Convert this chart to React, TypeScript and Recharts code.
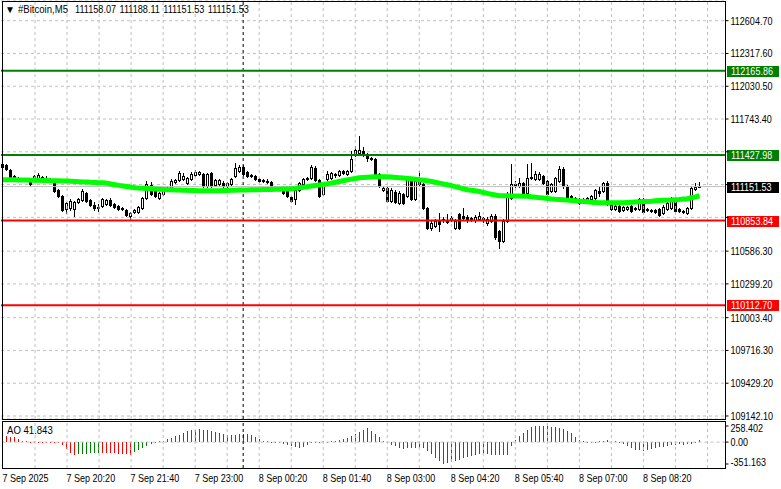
import React from 'react';
import { ComposedChart, Bar, Line, XAxis, YAxis, CartesianGrid, ReferenceLine } from 'recharts';

const FONT = '"Liberation Sans", Arial, sans-serif';
const SQUEEZE = 0.82; // narrow terminal-style lettering

// [open, high, low, close] per 5-minute bar, 7 Sep 19:00 -> 8 Sep 09:30
const candles: number[][] = [
  [111325, 111378, 111308, 111351], [111343, 111351, 111299, 111308], [111299, 111308, 111229, 111238], [111246, 111255, 111220, 111229],
  [111220, 111238, 111211, 111229], [111220, 111229, 111203, 111211], [111211, 111229, 111203, 111220], [111203, 111211, 111159, 111176],
  [111220, 111255, 111211, 111246], [111229, 111273, 111220, 111255], [111238, 111246, 111211, 111229], [111229, 111246, 111203, 111220],
  [111220, 111229, 111194, 111211], [111185, 111203, 111106, 111115], [111124, 111132, 111062, 111071], [111071, 111080, 110940, 110949],
  [110957, 111019, 110922, 111010], [110966, 111045, 110949, 111027], [110957, 111027, 110896, 111019], [111019, 111054, 111010, 111045],
  [111036, 111132, 111027, 111115], [111097, 111106, 111019, 111027], [111036, 111045, 110984, 110992], [110992, 111019, 110949, 110966],
  [110975, 111001, 110940, 110966], [110984, 111054, 110975, 111045], [111001, 111045, 110992, 111036], [111036, 111054, 110984, 110992],
  [111001, 111010, 110966, 110975], [110984, 110992, 110949, 110957], [110966, 110975, 110949, 110957], [110949, 110957, 110896, 110905],
  [110896, 110931, 110861, 110922], [110931, 110957, 110922, 110949], [110931, 110984, 110922, 110975], [110966, 111062, 110957, 111054],
  [111054, 111203, 111045, 111176], [111168, 111194, 111080, 111089], [111124, 111132, 111062, 111071], [111054, 111106, 111045, 111097],
  [111089, 111141, 111080, 111132], [111124, 111150, 111115, 111141], [111141, 111220, 111132, 111203], [111194, 111220, 111185, 111211],
  [111211, 111290, 111203, 111273], [111220, 111273, 111211, 111246], [111185, 111238, 111176, 111229], [111220, 111281, 111211, 111264],
  [111255, 111299, 111246, 111281], [111264, 111290, 111255, 111281], [111264, 111273, 111150, 111159], [111159, 111273, 111150, 111264],
  [111273, 111281, 111150, 111159], [111168, 111220, 111159, 111211], [111176, 111220, 111168, 111211], [111185, 111203, 111132, 111159],
  [111159, 111194, 111150, 111185], [111176, 111229, 111168, 111220], [111246, 111360, 111238, 111316], [111290, 111343, 111281, 111325],
  [111325, 111343, 111255, 111264], [111281, 111290, 111238, 111246], [111255, 111264, 111238, 111246], [111246, 111255, 111211, 111220],
  [111220, 111229, 111194, 111203], [111211, 111220, 111194, 111203], [111203, 111220, 111185, 111194], [111194, 111203, 111141, 111150],
  [111150, 111159, 111132, 111141], [111141, 111150, 111124, 111132], [111141, 111150, 111089, 111097], [111115, 111124, 111062, 111071],
  [111062, 111071, 111019, 111027], [111045, 111132, 111001, 111124], [111124, 111194, 111115, 111185], [111176, 111229, 111168, 111220],
  [111220, 111238, 111211, 111229], [111229, 111343, 111220, 111325], [111316, 111334, 111203, 111211], [111211, 111220, 111062, 111071],
  [111089, 111185, 111080, 111176], [111220, 111290, 111211, 111264], [111229, 111281, 111220, 111273], [111255, 111273, 111238, 111264],
  [111255, 111299, 111246, 111290], [111290, 111299, 111264, 111273], [111264, 111299, 111255, 111290], [111290, 111465, 111281, 111395],
  [111430, 111509, 111422, 111474], [111448, 111597, 111439, 111474], [111465, 111500, 111422, 111430], [111422, 111448, 111378, 111404],
  [111404, 111413, 111387, 111395], [111395, 111404, 111255, 111264], [111264, 111273, 111150, 111159], [111124, 111159, 111115, 111141],
  [111141, 111150, 111019, 111027], [111027, 111141, 111019, 111124], [111106, 111124, 111010, 111019], [111010, 111115, 111001, 111097],
  [111089, 111097, 111001, 111010], [111071, 111238, 111062, 111220], [111229, 111238, 111036, 111045], [111045, 111220, 111036, 111203],
  [111203, 111290, 111168, 111176], [111176, 111185, 110957, 110966], [110966, 110975, 110782, 110791], [110791, 110852, 110773, 110835],
  [110808, 110870, 110800, 110852], [110852, 110922, 110765, 110826], [110861, 110887, 110843, 110870], [110852, 110913, 110835, 110843],
  [110870, 110896, 110852, 110878], [110791, 110870, 110782, 110852], [110913, 110922, 110782, 110791], [110896, 110966, 110861, 110878],
  [110887, 110905, 110843, 110861], [110878, 110887, 110852, 110861], [110861, 110905, 110843, 110887], [110870, 110931, 110861, 110896],
  [110878, 110887, 110843, 110861], [110835, 110887, 110817, 110870], [110852, 110913, 110843, 110896], [110896, 110913, 110694, 110712],
  [110765, 110773, 110616, 110677], [110677, 110870, 110668, 110852], [110852, 111106, 110843, 111089], [111054, 111351, 111045, 111176],
  [111176, 111203, 111150, 111168], [111159, 111229, 111150, 111185], [111185, 111194, 111089, 111097], [111097, 111351, 111089, 111229],
  [111229, 111360, 111220, 111238], [111220, 111290, 111211, 111264], [111220, 111281, 111211, 111264], [111246, 111255, 111176, 111185],
  [111203, 111211, 111080, 111089], [111115, 111185, 111106, 111176], [111115, 111238, 111106, 111229], [111203, 111334, 111194, 111308],
  [111308, 111325, 111141, 111159], [111159, 111168, 111036, 111045], [111071, 111080, 111027, 111045], [111054, 111062, 111027, 111036],
  [111045, 111054, 111001, 111010], [111045, 111054, 111019, 111027], [111027, 111062, 111019, 111054], [111045, 111080, 111036, 111071],
  [111054, 111132, 111045, 111124], [111115, 111150, 111071, 111097], [111115, 111194, 111106, 111185], [111185, 111203, 110992, 111001],
  [111001, 111010, 110949, 110957], [110957, 110992, 110949, 110984], [110984, 110992, 110931, 110940], [110949, 110984, 110940, 110975],
  [110957, 110984, 110949, 110975], [110984, 110992, 110931, 110940], [110957, 110975, 110949, 110966], [110957, 111054, 110949, 111045],
  [111045, 111054, 110922, 110931], [110957, 110966, 110940, 110949], [110949, 110957, 110931, 110940], [110949, 110957, 110922, 110931],
  [110957, 110966, 110896, 110905], [110922, 110992, 110913, 110975], [110957, 111027, 110949, 111010], [110966, 111062, 110957, 111045],
  [111027, 111036, 110931, 110940], [110957, 110966, 110931, 110940], [110940, 110949, 110922, 110931], [110922, 110975, 110913, 110966],
  [110966, 111159, 110957, 111141], [111132, 111185, 111124, 111150], [111158.07, 111188.11, 111151.53, 111151.53],
];

// moving average (lime line), one value per bar
const maValues = [
  111212, 111212, 111211, 111211, 111210, 111210, 111209, 111208, 111207, 111206, 111205, 111204, 111203, 111203, 111202, 111201,
  111200, 111198, 111196, 111194, 111192, 111191, 111189, 111188, 111186, 111185,
  111180, 111174, 111168, 111162, 111157, 111152, 111147, 111142,
  111139, 111137, 111135, 111132, 111130, 111128, 111126, 111124,
  111123, 111122, 111121, 111120, 111119, 111118, 111117, 111116, 111115,
  111115, 111115, 111116, 111116, 111117, 111118, 111119, 111120, 111121, 111122, 111122, 111123, 111124,
  111124, 111125, 111126, 111127, 111128, 111129, 111130, 111131, 111132,
  111136, 111141, 111146, 111151, 111156, 111161, 111166, 111171, 111176,
  111182, 111189, 111196, 111203, 111210, 111217, 111223, 111229,
  111231, 111233, 111235, 111237, 111238, 111238,
  111237, 111235, 111232, 111229, 111226, 111223, 111220,
  111216, 111211, 111207, 111203,
  111196, 111189, 111182, 111175, 111168,
  111160, 111151, 111142, 111133, 111124, 111119, 111115,
  111108, 111100, 111092, 111085, 111078, 111071,
  111071, 111071, 111070, 111070, 111069, 111068,
  111066, 111063, 111059, 111055, 111051, 111047, 111043, 111040, 111038, 111036,
  111033, 111030, 111027, 111024, 111021, 111018, 111015, 111013, 111011, 111010,
  111010, 111009, 111009, 111009, 111010,
  111012, 111014, 111016, 111018, 111020, 111022, 111024, 111027,
  111029, 111031, 111033, 111035, 111037, 111039, 111042, 111045,
  111054, 111062, 111071,
];

// Awesome Oscillator histogram
const aoValues = [
  97, 97, 88, 80, 56, 24,
  10, 8, 5, 3, 2, 0, -3, -8,
  -20, -50, -110, -170, -200,
  -195, -190, -185, -180, -175, -170,
  -172, -175, -178, -182, -186, -190, -195, -200,
  -160, -125, -95, -60, -25,
  3, 12, 25, 45, 65, 90, 120, 150, 175,
  190, 200, 205,
  200, 190, 175, 160, 145, 130, 118, 110,
  118, 128, 132,
  125, 110, 80, 50, 22,
  12, 6, 2, -8,
  -25, -45, -65, -85, -97,
  -75, -45, -20,
  -5, 5, 10, 8, 12, 18, 28, 42,
  60, 90, 130, 170, 200, 225,
  185, 135, 80, 25,
  -15, -45, -70, -95, -110,
  -100, -95, -92, -90,
  -100, -140, -190, -250, -300, -351.163,
  -335, -318, -300, -282, -262, -242, -222, -205, -190,
  -193, -196, -199, -202, -205, -208, -210,
  -70,
  30, 90, 150, 200, 235, 252, 258.402,
  256, 252, 248, 242, 232, 215, 185, 140, 80,
  35, 12, 3, 1, 5,
  15, 25, 35,
  22, 10, 2,
  -30, -70, -100, -120, -130, -135,
  -120, -108, -96, -84, -72, -60, -48, -42, -38, -40, -32, -25, -12, 41.843,
];

const timeLabels = ['7 Sep 2025', '7 Sep 20:20', '7 Sep 21:40', '7 Sep 23:00', '8 Sep 00:20', '8 Sep 01:40',
  '8 Sep 03:00', '8 Sep 04:20', '8 Sep 05:40', '8 Sep 07:00', '8 Sep 08:20'];
const timeLabelBars = [0, 16, 32, 48, 64, 80, 96, 112, 128, 144, 160];

const priceLabels = [112604.70, 112317.60, 112030.50, 111743.40, 110586.30, 110299.20, 110003.40, 109716.30, 109429.20, 109142.10];
const hiddenGridPrices = [111456.30, 111169.20, 110882.10];
const levelPrices = [112165.86, 111427.98, 110853.84, 110112.70];
const levelColors = ['#008000', '#008000', '#ff0000', '#ff0000'];
const lastPrice = 111151.53;
const aoTicks = [258.402, 0, -351.163];
const headerSymbol = '#Bitcoin,M5';
const headerValues = [111158.07, 111188.11, 111151.53, 111151.53];

const SLOTS = 181;
const gridBars = Array.from({ length: 22 }, (_, k) => 8 * (k + 1));
const separatorBar = 60;

const mainData = Array.from({ length: SLOTS }, (_, i) => {
  const c = candles[i];
  if (!c) return { i };
  return { i, o: c[0], h: c[1], l: c[2], c: c[3], range: [c[2], c[1]], ma: maValues[i] };
});

const aoData = Array.from({ length: SLOTS }, (_, i) => ({
  i,
  ao: aoValues[i],
  up: i > 0 && aoValues[i] > aoValues[i - 1],
}));

function SText({ x, y, fill = '#000', children }: any) {
  return (
    <text transform={`translate(${x} ${y}) scale(${SQUEEZE} 1)`} x={0} y={0} fontSize={11} fontFamily={FONT} fill={fill} textAnchor="start">
      {children}
    </text>
  );
}

function Candle(props: any) {
  const { x, y, width, height, payload } = props;
  if (!payload || payload.o == null) return null;
  const top = Math.min(y, y + height);
  const span = Math.abs(height) || 1;
  const toY = (v: number) => top + ((payload.h - v) / (payload.h - payload.l)) * span;
  const cx = Math.floor(x + width / 2);
  const yo = Math.round(toY(payload.o));
  const yc = Math.round(toY(payload.c));
  const yh = Math.round(top);
  const yl = Math.round(top + span);
  const bTop = Math.min(yo, yc);
  const bBot = Math.max(yo, yc);
  const bull = payload.c >= payload.o;
  return (
    <g shapeRendering="crispEdges">
      <rect x={cx} y={yh} width={1} height={yl - yh + 1} fill="#000" />
      {bBot - bTop < 1 ? (
        <rect x={cx - 1} y={bTop} width={3} height={1} fill="#000" />
      ) : bull ? (
        <rect x={cx - 0.5} y={bTop + 0.5} width={2} height={bBot - bTop} fill="#fff" stroke="#000" strokeWidth={1} />
      ) : (
        <rect x={cx - 1} y={bTop} width={3} height={bBot - bTop + 1} fill="#000" />
      )}
    </g>
  );
}

function AoBar(props: any) {
  const { x, y, width, height, payload } = props;
  if (!payload || payload.ao == null) return null;
  const cx = Math.floor(x + width / 2);
  const top = Math.round(Math.min(y, y + height));
  const bot = Math.round(Math.max(y, y + height));
  return (
    <rect x={cx} y={top} width={1} height={Math.max(1, bot - top)} fill={payload.up ? '#008000' : '#ff0000'} shapeRendering="crispEdges" />
  );
}

function PriceTick(props: any) {
  const { x, y, payload } = props;
  if (!priceLabels.includes(payload.value)) return null;
  return <SText x={x} y={y + 4}>{payload.value.toFixed(2)}</SText>;
}

function AoTick(props: any) {
  const { x, y, payload } = props;
  const v = payload.value;
  const dy = v > 0 ? 2 : v < 0 ? -2 : 0;
  return <SText x={x} y={y + 4 + dy}>{v === 0 ? '0.00' : String(v)}</SText>;
}

function TimeTick(props: any) {
  const { x, y, payload } = props;
  const k = timeLabelBars.indexOf(payload.value);
  if (k < 0) return null;
  return <SText x={x - 0.5} y={y + 14}>{timeLabels[k]}</SText>;
}

function PriceTag(props: any) {
  const { viewBox, text, fill } = props;
  if (!viewBox) return null;
  const x = viewBox.x + viewBox.width + 1.5;
  const y = Math.round(viewBox.y);
  return (
    <g>
      <rect x={x} y={y - 5} width={52} height={11} fill={fill} shapeRendering="crispEdges" />
      <SText x={x + 4} y={y + 4} fill="#fff">{text}</SText>
    </g>
  );
}

const overlayText = (scale: number): React.CSSProperties => ({
  position: 'absolute',
  fontFamily: FONT,
  fontSize: 11,
  lineHeight: '13px',
  whiteSpace: 'pre',
  color: '#000',
  transform: `scaleX(${scale})`,
  transformOrigin: 'left top',
});

export default function App() {
  return (
    <div style={{ position: 'absolute', left: 0, top: 0, width: 781, height: 489, background: '#fff', overflow: 'hidden' }}>
      <div style={{ position: 'absolute', left: 0, top: 0 }}>
        <ComposedChart width={781} height={421} data={mainData} margin={{ top: 1, right: 0.5, bottom: 2, left: 1 }}>
          <XAxis dataKey="i" type="category" hide />
          <YAxis
            orientation="right"
            width={55}
            domain={[109115.8, 112777.2]}
            allowDataOverflow
            ticks={[...priceLabels, ...hiddenGridPrices].sort((a, b) => b - a)}
            interval={0}
            axisLine={false}
            tickSize={3}
            tickMargin={2}
            tickLine={{ stroke: '#000' }}
            tick={<PriceTick />}
          />
          <CartesianGrid vertical={false} stroke="#c0c0c0" strokeDasharray="3 3" />
          {gridBars.map((b) => (
            <ReferenceLine key={b} x={b} stroke="#c0c0c0" strokeDasharray="3 3" />
          ))}
          <ReferenceLine x={separatorBar} stroke="#000" strokeDasharray="3 3" />
          <ReferenceLine y={lastPrice} stroke="#c0c0c0" label={<PriceTag text={lastPrice.toFixed(2)} fill="#000" />} />
          <Bar dataKey="range" shape={(p: any) => <Candle {...p} />} isAnimationActive={false} />
          <Line dataKey="ma" type="linear" stroke="#00ff00" strokeWidth={5} dot={false} activeDot={false} isAnimationActive={false} />
          {levelPrices.map((p, k) => (
            <ReferenceLine
              key={p}
              y={p}
              stroke={levelColors[k]}
              strokeWidth={2}
              label={<PriceTag text={p.toFixed(2)} fill={levelColors[k]} />}
            />
          ))}
        </ComposedChart>
      </div>
      <div style={{ position: 'absolute', left: 0, top: 420 }}>
        <ComposedChart width={781} height={69} data={aoData} margin={{ top: 1, right: 0.5, bottom: 0, left: 1 }}>
          <XAxis
            dataKey="i"
            type="category"
            ticks={timeLabelBars}
            interval={0}
            height={21}
            axisLine={false}
            tickLine={false}
            tickSize={0}
            tickMargin={0}
            tick={<TimeTick />}
          />
          <YAxis
            orientation="right"
            width={55}
            domain={[-415.3, 338.6]}
            allowDataOverflow
            ticks={aoTicks}
            interval={0}
            axisLine={false}
            tickSize={3}
            tickMargin={2}
            tickLine={{ stroke: '#000' }}
            tick={<AoTick />}
          />
          <ReferenceLine y={0} stroke="#c0c0c0" strokeDasharray="3 3" />
          {gridBars.map((b) => (
            <ReferenceLine key={b} x={b} stroke="#c0c0c0" strokeDasharray="3 3" />
          ))}
          <ReferenceLine x={separatorBar} stroke="#000" strokeDasharray="3 3" />
          <Bar dataKey="ao" shape={(p: any) => <AoBar {...p} />} isAnimationActive={false} />
        </ComposedChart>
      </div>
      {/* window frames */}
      <div style={{ position: 'absolute', left: 2, top: 1, width: 724, height: 419, border: '1px solid #000', boxSizing: 'border-box', pointerEvents: 'none' }} />
      <div style={{ position: 'absolute', left: 2, top: 421, width: 724, height: 48, border: '1px solid #000', boxSizing: 'border-box', pointerEvents: 'none' }} />
      <div style={{ ...overlayText(1), left: 5, top: 3, fontSize: 10 }}>{'\u25BC'}</div>
      <div style={{ ...overlayText(0.87), left: 18, top: 3 }}>{headerSymbol}</div>
      <div style={{ ...overlayText(0.83), left: 75, top: 3, wordSpacing: 1 }}>
        {headerValues.map((v) => v.toFixed(2)).join(' ')}
      </div>
      <div style={{ ...overlayText(0.87), left: 7, top: 424 }}>
        {'AO ' + aoValues[aoValues.length - 1].toFixed(3)}
      </div>
    </div>
  );
}
